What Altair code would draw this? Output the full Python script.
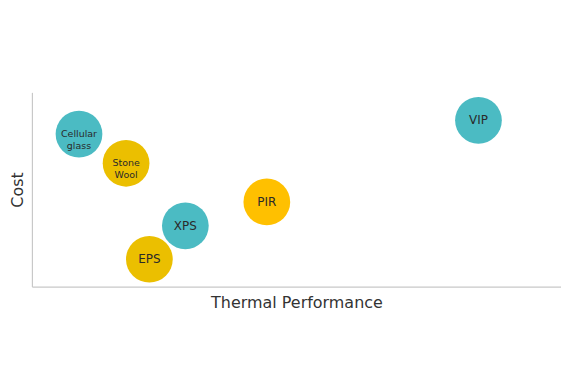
import altair as alt
import pandas as pd

materials = ["Cellular\nglass", "Stone\nWool", "XPS", "EPS", "PIR", "VIP"]
thermal = [8.9, 17.8, 29.0, 22.2, 44.4, 84.4]
cost = [78.5, 63.5, 31.3, 14.1, 43.6, 85.6]
colors = ["#4BBBC3", "#EBBF00", "#4BBBC3", "#EBBF00", "#FFC000", "#4BBBC3"]
font_sizes = [9.5, 9.5, 12, 12, 12, 12]

df = pd.DataFrame({
    "material": materials,
    "thermal": thermal,
    "cost": cost,
    "color": colors,
    "fs": font_sizes,
})

x = alt.X("thermal:Q", scale=alt.Scale(domain=[0, 100], nice=False, zero=False),
          axis=alt.Axis(title="Thermal Performance", labels=False, ticks=False, grid=False,
                        domainColor="#c8c8c8", domainWidth=1.2, titleFont="DejaVu Sans",
                        titleFontSize=16, titleFontWeight="normal", titleColor="#333333",
                        titlePadding=8))
y = alt.Y("cost:Q", scale=alt.Scale(domain=[0, 100], nice=False, zero=False),
          axis=alt.Axis(title="Cost", labels=False, ticks=False, grid=False,
                        domainColor="#c8c8c8", domainWidth=1.2, titleFont="DejaVu Sans",
                        titleFontSize=16, titleFontWeight="normal", titleColor="#333333",
                        titlePadding=6))

base = alt.Chart(df)

bubbles = base.mark_circle(size=2200, opacity=1).encode(
    x=x, y=y, color=alt.Color("color:N", scale=None)
)

labels_big = base.transform_filter("datum.fs > 10").mark_text(
    font="DejaVu Sans", fontSize=12, color="#2a2a2a", baseline="middle", align="center"
).encode(x="thermal:Q", y="cost:Q", text="material:N")

labels_small = base.transform_filter("datum.fs <= 10").mark_text(
    font="DejaVu Sans", fontSize=9.5, color="#2a2a2a", baseline="middle", align="center",
    lineBreak="\n", lineHeight=12
).encode(x="thermal:Q", y="cost:Q", text="material:N")

chart = alt.layer(bubbles, labels_big, labels_small).properties(
    width=531, height=195,
    autosize=alt.AutoSizeParams(type="none"),
    padding={"left": 24, "top": 84, "right": 0, "bottom": 80},
).configure_view(stroke=None)

chart.save("out.html", embed_options={"renderer": "svg", "actions": False})
